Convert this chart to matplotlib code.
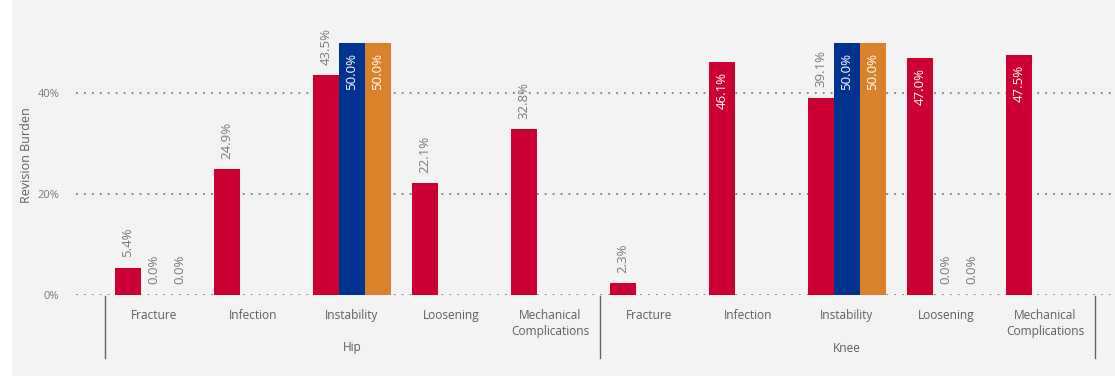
import matplotlib
matplotlib.use("Agg")
import matplotlib.pyplot as plt
from matplotlib.patches import Rectangle
import matplotlib.transforms as mtransforms
import numpy as np

plt.rcParams['font.family'] = ['Open Sans', 'DejaVu Sans']

joints = ["Hip", "Knee"]
causes = ["Fracture", "Infection", "Instability", "Loosening", "Mechanical\nComplications"]

# Revision burden (%) per joint x cause, three series; None = no bar
series_red = [5.4, 24.9, 43.5, 22.1, 32.8, 2.3, 46.1, 39.1, 47.0, 47.5]
series_blue = [0.0, None, 50.0, None, None, None, None, 50.0, 0.0, None]
series_orange = [0.0, None, 50.0, None, None, None, None, 50.0, 0.0, None]

colors = ["#CC0033", "#00338F", "#DA8229"]
label_gray = "#7a7a7a"
text_gray = "#5f5f5f"

W, H = 1115, 378
fig = plt.figure(figsize=(W / 100, H / 100), dpi=100, facecolor="white")
fig.patches.append(Rectangle((12 / W, 2 / H), 1 - 12 / W, 1 - 2 / H,
                             transform=fig.transFigure, facecolor="#f3f3f3",
                             edgecolor="none", zorder=-10))

px_per_pct = 101 / 20
y0_px = 295
ymax = 55
ax_left, ax_right = 76, 1112
ax = fig.add_axes([ax_left / W, 1 - y0_px / H, (ax_right - ax_left) / W,
                   ymax * px_per_pct / H])
ax.set_facecolor("none")

n = len(series_red)
x = np.arange(n)
bw = 26 / 99
ax.set_xlim((ax_left - 154) / 99, (ax_right - 154) / 99)
ax.set_ylim(0, ymax)

for s_idx, (vals, col) in enumerate(zip([series_red, series_blue, series_orange], colors)):
    offs = (s_idx - 1) * bw
    for i, v in enumerate(vals):
        if v is None:
            continue
        xc = x[i] + offs
        if v > 0:
            ax.bar(xc, v, width=bw, color=col, edgecolor="none", zorder=3)
        txt = f"{v:.1f}%"
        if v >= 45:
            ax.text(xc, v - 2.0, txt, rotation=90, ha="center", va="top",
                    color="white", fontsize=9.5, zorder=4)
        else:
            ax.text(xc, v + 2.1, txt, rotation=90, ha="center", va="bottom",
                    color=label_gray, fontsize=9.5, zorder=4)

# dotted gridlines
for yv in [0, 20, 40]:
    ax.axhline(yv, color="#7c7c7c", linestyle=(0, (1, 3.4)), linewidth=1.3, zorder=1)

ax.set_yticks([0, 20, 40])
ax.set_yticklabels(["0%", "20%", "40%"])
ax.tick_params(axis="y", length=0, pad=12, labelsize=8, labelcolor=label_gray)
ax.set_xticks([])
for sp in ax.spines.values():
    sp.set_visible(False)

fig.text(27 / W, 1 - 155 / H, "Revision Burden", rotation=90, ha="center",
         va="center", fontsize=9, color=text_gray)

# category and joint labels below the axis
trans = mtransforms.blended_transform_factory(ax.transData, fig.transFigure)
for i in range(n):
    ax.text(x[i], 1 - 309 / H, causes[i % len(causes)], transform=trans,
            ha="center", va="top", fontsize=8.6, color=text_gray,
            linespacing=1.3, clip_on=False)
for j, joint in enumerate(joints):
    cx = j * len(causes) + (len(causes) - 1) / 2
    ax.text(cx, 1 - 348 / H, joint, transform=trans, ha="center", va="center",
            fontsize=8.6, color=text_gray, clip_on=False)

# separators between joint groups
for b in [-0.5, 4.5, 9.5]:
    ax.plot([b, b], [1 - 296 / H, 1 - 358 / H], transform=trans,
            color="#666666", linewidth=1, clip_on=False)

fig.savefig("out.png", dpi=100, facecolor=fig.get_facecolor())
